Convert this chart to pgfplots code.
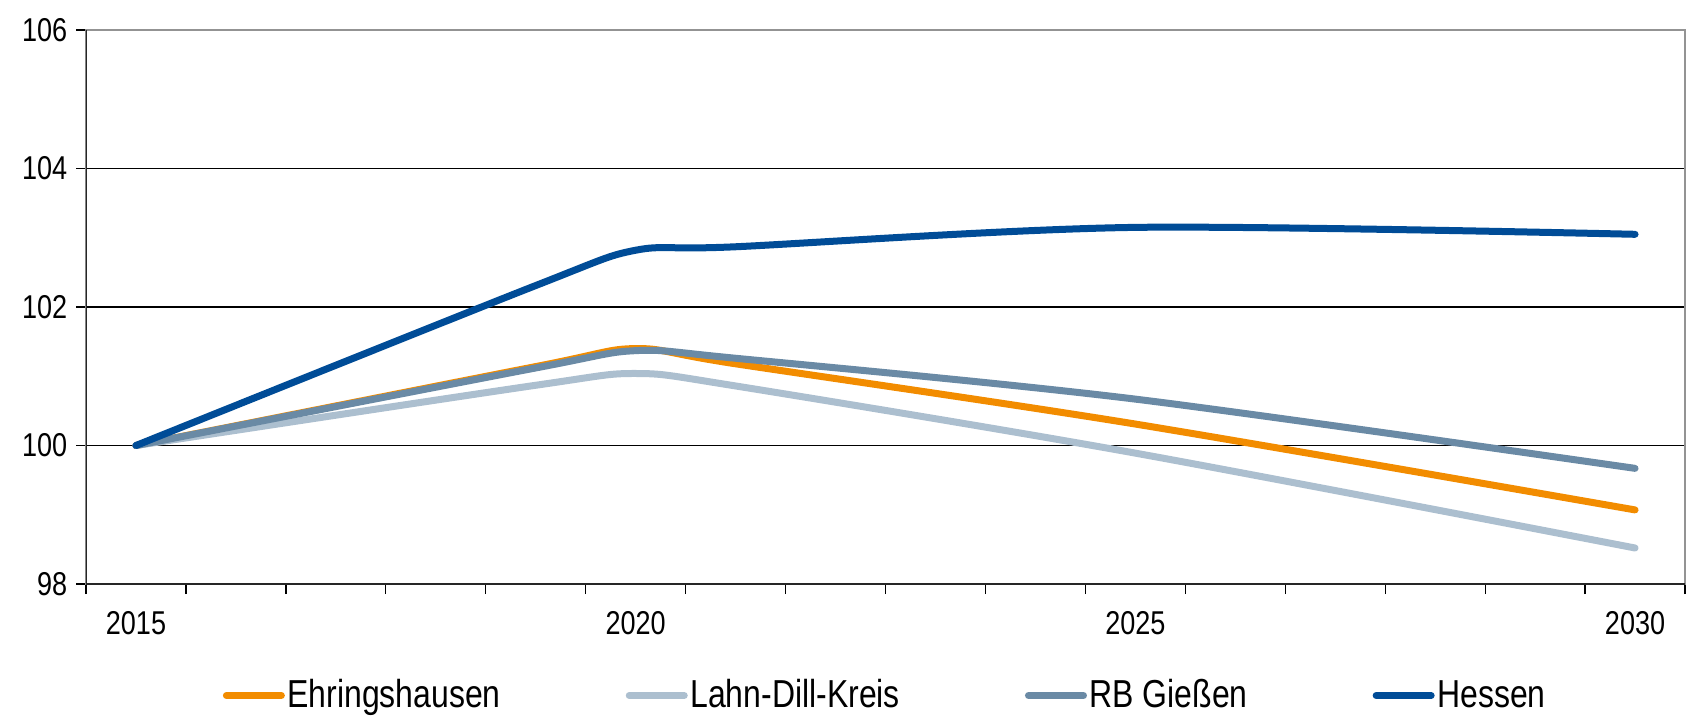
\documentclass[border=0pt]{standalone}
\usepackage{fontspec}
\setmainfont[FakeStretch=0.82]{Liberation Sans}
\usepackage{pgfplots}
\pgfplotsset{compat=1.18}
\definecolor{cOr}{RGB}{242,140,0}
\definecolor{cLD}{RGB}{172,191,207}
\definecolor{cRB}{RGB}{106,138,165}
\definecolor{cHe}{RGB}{0,76,151}
\begin{document}
\begin{tikzpicture}
\begin{axis}[
  at={(0,0)}, anchor=south west,
  scale only axis, width=639.6pt, height=221.6pt,
  xmin=2014.5, xmax=2030.5, ymin=98, ymax=106,
  axis line style={draw=gray!85, line width=0.8pt},
  ytick={98,100,...,106},
  ymajorgrids, grid style={black, line width=0.5pt},
  xtick={2014.5,2015.5,...,2030.5}, xticklabels={},
  extra x ticks={2015,2020,2025,2030},
  extra x tick labels={2015,2020,2025,2030},
  extra x tick style={major tick length=0pt, grid=none},
  xticklabel style={yshift=-7.5pt},
  tick align=outside, major tick length=4pt,
  xtick pos=bottom, ytick pos=left,
  tick style={black, line width=0.5pt},
  ticklabel style={font=\fontsize{13.2}{15}\selectfont},
  /pgf/number format/assume math mode=true,
  legend columns=4,
  legend style={draw=none, fill=none,
    at={([yshift=-44.6pt]axis description cs:0.5,0)}, anchor=center,
    font=\fontsize{15.6}{18}\selectfont,
    nodes={inner xsep=1pt, inner ysep=1pt},
    /tikz/every even column/.append style={column sep=49pt}},
  legend image code/.code={\draw[#1, line cap=round] (0pt,0pt) -- (22pt,0pt);},
  every axis plot/.append style={line width=2.8pt, line cap=round, line join=round, smooth},
]
\addplot[cOr] coordinates {(2015,100) (2019,101.14) (2020,101.40) (2021,101.18) (2025,100.31) (2030,99.07)};
\addlegendentry{Ehringshausen}
\addplot[cLD] coordinates {(2015,100) (2019,100.87) (2020,101.04) (2021,100.86) (2025,99.89) (2030,98.52)};
\addlegendentry{Lahn-Dill-Kreis}
\addplot[cRB] coordinates {(2015,100) (2019,101.12) (2020,101.37) (2021,101.26) (2025,100.67) (2030,99.67)};
\addlegendentry{RB Gießen}
\addplot[cHe] coordinates {(2015,100) (2019,102.31) (2020,102.82) (2021,102.87) (2025,103.15) (2030,103.05)};
\addlegendentry{Hessen}
\draw[black!85, line width=0.9pt] (rel axis cs:0,1) -- (rel axis cs:0,0) -- (rel axis cs:1,0);
\end{axis}
\pgfresetboundingbox
\path (-34.4pt,-53.6pt) rectangle (641.6pt,233.6pt);
\end{tikzpicture}
\end{document}
